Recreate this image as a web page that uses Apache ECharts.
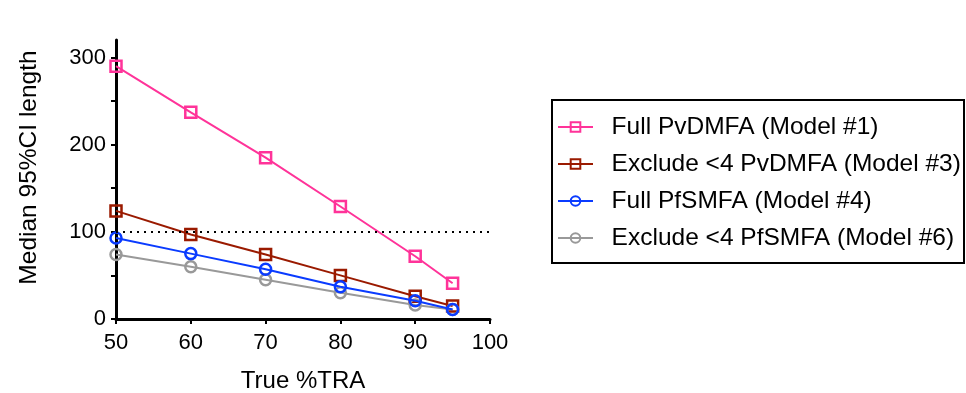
<!DOCTYPE html>
<html>
<head>
<meta charset="utf-8">
<script src="https://cdn.jsdelivr.net/npm/echarts@6/dist/echarts.min.js"></script>
<style>
  html, body { margin: 0; padding: 0; background: #fff; }
  #chart { width: 966px; height: 393px; }
</style>
</head>
<body>
<div id="chart"></div>
<script>
const traValues = [50, 60, 70, 80, 90, 95]
const fullPvDMFA = [290, 237, 185, 129, 72, 41]
const excludePvDMFA = [124, 97, 74, 50, 26, 15]
const fullPfSMFA = [93, 75, 57, 37, 21, 11]
const excludePfSMFA = [74, 60, 45, 30, 16, 11]
const yLabelValues = [0, 100, 200, 300]
const yTickValues = [0, 50, 100, 150, 200, 250, 300]
const thresholdValue = 100

const font = 'Liberation Sans, Arial, Helvetica, sans-serif'

function pairs(ys) {
  return traValues.map((x, i) => [x, ys[i]])
}

function makeSeries(name, ys, color, symbol) {
  return {
    name: name,
    type: 'line',
    data: pairs(ys),
    symbol: symbol,
    symbolSize: 11,
    showSymbol: true,
    lineStyle: { color: color, width: 2 },
    itemStyle: { color: 'rgba(255,255,255,0)', borderColor: color, borderWidth: 2.5 },
    emphasis: { disabled: true }
  }
}

const chart = echarts.init(document.getElementById('chart'))

const series = [
  makeSeries('Full PvDMFA (Model #1)', fullPvDMFA, '#FF3399', 'rect'),
  makeSeries('Exclude <4 PvDMFA (Model #3)', excludePvDMFA, '#9A1A00', 'rect'),
  makeSeries('Full PfSMFA (Model #4)', fullPfSMFA, '#0A3BFF', 'circle'),
  makeSeries('Exclude <4 PfSMFA (Model #6)', excludePfSMFA, '#999999', 'circle')
]
series[0].markLine = {
  silent: true,
  symbol: 'none',
  label: { show: false },
  lineStyle: { color: '#000', type: [2, 5], width: 2 },
  data: [{ yAxis: thresholdValue }]
}
// blue sits above gray
series[2].z = 4
series[3].z = 3

const option = {
  animation: false,
  textStyle: { fontFamily: font },
  grid: { left: 116, right: 476, top: 40, bottom: 74, outerBoundsMode: 'none' },
  xAxis: {
    type: 'value',
    min: 50,
    max: 100,
    interval: 10,
    name: 'True %TRA',
    nameLocation: 'middle',
    nameGap: 50,
    nameTextStyle: { fontSize: 24, color: '#000', fontFamily: font },
    axisLine: { lineStyle: { color: '#000', width: 3 } },
    axisTick: { length: 5, lineStyle: { color: '#000', width: 2 } },
    axisLabel: { fontSize: 22, color: '#000', margin: 13, fontFamily: font },
    splitLine: { show: false }
  },
  yAxis: {
    type: 'value',
    min: 0,
    max: 320,
    interval: 100,
    name: 'Median 95%CI length',
    nameLocation: 'middle',
    nameGap: 74,
    nameTextStyle: { fontSize: 24.5, color: '#000', fontFamily: font, padding: [0, 0, 0, 24] },
    axisLine: { onZero: false, lineStyle: { color: '#000', width: 3 } },
    axisTick: { length: 5, customValues: yTickValues, lineStyle: { color: '#000', width: 2 } },
    axisLabel: { fontSize: 22, color: '#000', margin: 10, customValues: yLabelValues, fontFamily: font },
    splitLine: { show: false }
  },
  legend: {
    orient: 'vertical',
    left: 552,
    top: 100,
    padding: [14, 5, 12, 5],
    itemWidth: 35,
    itemHeight: 12,
    itemGap: 11,
    formatter: name => '  ' + name,
    textStyle: { fontSize: 24.5, color: '#000', fontFamily: font, lineHeight: 26 },
    data: series.map(s => s.name)
  },
  // frame around the legend
  graphic: [{
    type: 'rect',
    shape: { x: 552, y: 100, width: 412, height: 163 },
    style: { fill: 'none', stroke: '#000', lineWidth: 2 },
    silent: true
  }],
  series: series
}

chart.setOption(option)
</script>
</body>
</html>
